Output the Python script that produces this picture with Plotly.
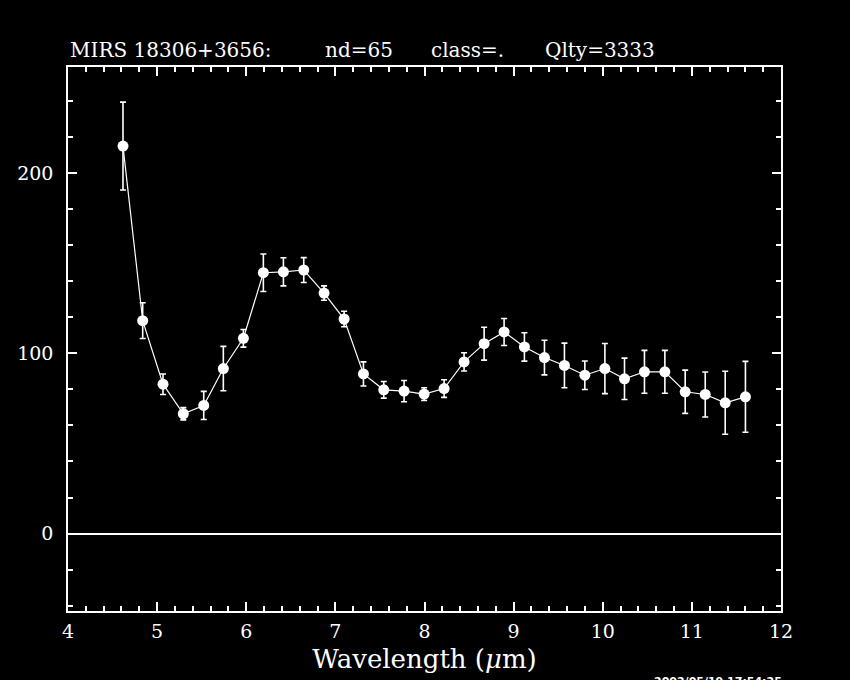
import plotly.graph_objects as go

wavelength = [4.617, 4.838, 5.066, 5.294, 5.523, 5.743, 5.968, 6.192, 6.417, 6.645,
              6.873, 7.098, 7.315, 7.543, 7.771, 7.996, 8.220, 8.444, 8.669, 8.893,
              9.121, 9.346, 9.570, 9.799, 10.024, 10.244, 10.468, 10.697, 10.925,
              11.150, 11.374, 11.601]
flux = [215.1, 118.2, 82.9, 66.5, 71.1, 91.6, 108.4, 144.8, 145.3, 146.3,
        133.5, 119.1, 88.6, 79.8, 79.1, 77.4, 80.5, 95.3, 105.4, 111.9,
        103.6, 97.7, 93.3, 87.9, 91.6, 85.9, 89.8, 89.8, 78.7,
        77.2, 72.6, 75.9]
flux_err = [24.4, 9.9, 5.7, 3.4, 7.8, 12.3, 4.9, 10.4, 7.8, 6.9,
            4.0, 4.3, 6.7, 4.6, 5.9, 3.5, 4.9, 5.1, 9.1, 7.5,
            7.9, 9.6, 12.4, 7.9, 13.9, 11.5, 11.9, 11.9, 12.0,
            12.5, 17.5, 19.7]

x_tick_vals = [4, 5, 6, 7, 8, 9, 10, 11, 12]
y_tick_vals = [0, 100, 200]

title_parts = ["MIRS 18306+3656:", "nd=65", "class=.", "Qlty=3333"]
title_part_x = [0.0, 0.357, 0.507, 0.666]   # paper fractions of left edges
stamp_text = "2002/05/19 17:54:25"

serif = "DejaVu Serif, Liberation Serif, serif"

fig = go.Figure()
fig.add_trace(go.Scatter(
    x=wavelength, y=flux,
    mode="lines+markers",
    line=dict(color="white", width=1.2),
    marker=dict(color="white", size=11, line=dict(width=0)),
    error_y=dict(type="data", array=flux_err, visible=True,
                 color="white", thickness=1.6, width=3),
    showlegend=False,
))

axis_common = dict(
    showgrid=False,
    ticks="inside",
    ticklen=9,
    tickwidth=1.5,
    tickcolor="white",
    showline=True,
    linecolor="white",
    linewidth=1.5,
    mirror="allticks",
    tickfont=dict(family=serif, size=19, color="white"),
)

fig.update_xaxes(
    range=[4, 12],
    tickvals=x_tick_vals,
    ticktext=[str(v) for v in x_tick_vals],
    zeroline=False,
    minor=dict(ticks="inside", dtick=0.2, ticklen=5, tickwidth=1.5, tickcolor="white"),
    title=dict(text="Wavelength (<i>μ</i>m)", font=dict(family=serif, size=26, color="white"),
               standoff=9),
    ticklabelstandoff=2,
    **axis_common,
)
fig.update_yaxes(
    range=[-43, 259],
    tickvals=y_tick_vals,
    ticktext=[str(v) for v in y_tick_vals],
    zeroline=True,
    zerolinecolor="white",
    zerolinewidth=2,
    minor=dict(ticks="inside", dtick=20, ticklen=5, tickwidth=1.5, tickcolor="white"),
    ticklabelstandoff=9,
    **axis_common,
)

for txt, px in zip(title_parts, title_part_x):
    fig.add_annotation(
        text=txt, xref="paper", yref="paper", x=px, y=1.0, yshift=3,
        xanchor="left", yanchor="bottom", showarrow=False,
        font=dict(family=serif, size=20, color="white"),
    )
fig.add_annotation(
    text="<b>" + stamp_text + "</b>", xref="paper", yref="paper", x=0.912, y=-0.114,
    xanchor="center", yanchor="top", showarrow=False,
    font=dict(family="DejaVu Sans, sans-serif", size=11, color="white"),
)

fig.update_layout(
    width=850, height=680,
    paper_bgcolor="black", plot_bgcolor="black",
    margin=dict(l=68, r=69, t=67, b=69),
    font=dict(family=serif, color="white"),
)

fig.write_html("out.html", config={"displayModeBar": False},
               post_script="document.body.style.margin='0';document.body.style.background='black';")
